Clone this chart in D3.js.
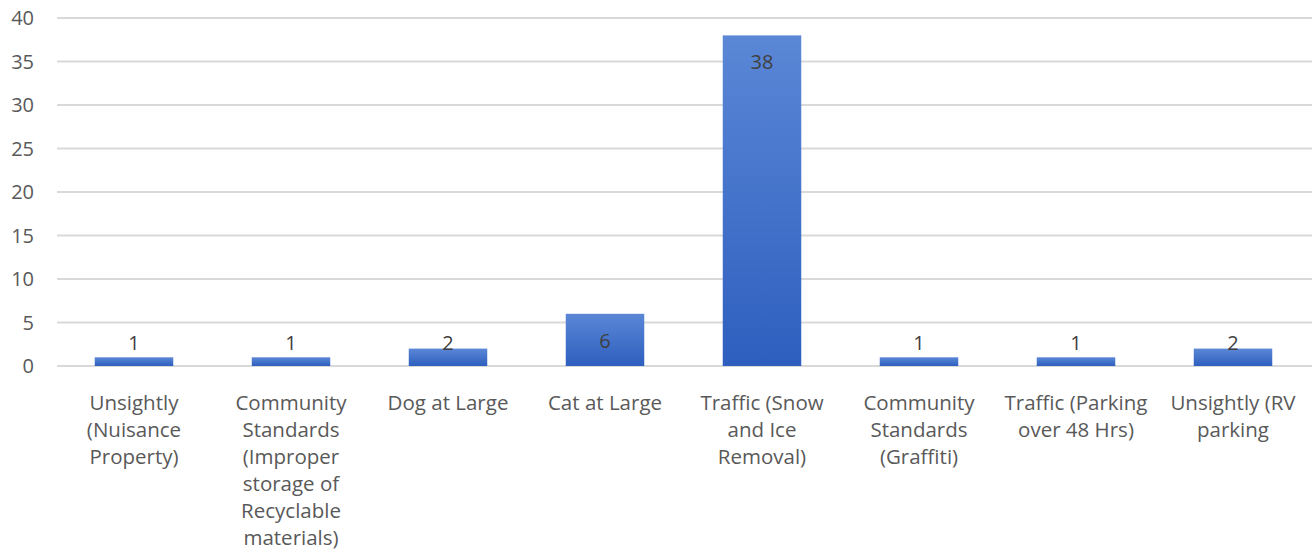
<!DOCTYPE html>
<html>
<head>
    <meta charset='utf-8'>
    <style>
        body { margin: 0; background: #fff; font-family: 'Open Sans', sans-serif; }
    </style>
    <script src='https://d3js.org/d3.v7.min.js'></script>
</head>
<body>
    <script>
        const WIDTH = 1312;
        const HEIGHT = 554;

        var categories = [
            ['Unsightly', '(Nuisance', 'Property)'],
            ['Community', 'Standards', '(Improper', 'storage of', 'Recyclable', 'materials)'],
            ['Dog at Large'],
            ['Cat at Large'],
            ['Traffic (Snow', 'and Ice', 'Removal)'],
            ['Community', 'Standards', '(Graffiti)'],
            ['Traffic (Parking', 'over 48 Hrs)'],
            ['Unsightly (RV', 'parking']
        ];
        var values = [1, 1, 2, 6, 38, 1, 1, 2];
        var yTicks = [0, 5, 10, 15, 20, 25, 30, 35, 40];

        var svg = d3.select('body').append('svg')
            .attr('width', WIDTH)
            .attr('height', HEIGHT);

        var grad = svg.append('defs').append('linearGradient')
            .attr('id', 'barGrad')
            .attr('x1', 0).attr('y1', 0).attr('x2', 0).attr('y2', 1);
        grad.append('stop').attr('offset', '0%').attr('stop-color', '#5b87d6');
        grad.append('stop').attr('offset', '100%').attr('stop-color', '#2e5fbf');

        var x = d3.scaleBand()
            .domain(d3.range(categories.length))
            .range([55.5, 1311.5])
            .paddingInner(0.5)
            .paddingOuter(0.25);

        var y = d3.scaleLinear()
            .domain([0, 40])
            .range([366, 18]);

        // gridlines
        svg.append('g')
            .selectAll('line')
            .data(yTicks)
            .enter()
            .append('line')
            .attr('x1', 57)
            .attr('x2', WIDTH)
            .attr('y1', function (d) { return y(d); })
            .attr('y2', function (d) { return y(d); })
            .attr('stroke', '#d9d9d9')
            .attr('stroke-width', 2);

        // y labels
        svg.append('g')
            .selectAll('text')
            .data(yTicks)
            .enter()
            .append('text')
            .text(function (d) { return d; })
            .attr('x', 34)
            .attr('y', function (d) { return y(d); })
            .attr('dy', '0.35em')
            .attr('text-anchor', 'end')
            .attr('font-size', '20px')
            .attr('fill', '#595959');

        // bars
        svg.append('g')
            .selectAll('rect')
            .data(values)
            .enter()
            .append('rect')
            .attr('x', function (d, i) { return x(i); })
            .attr('width', x.bandwidth())
            .attr('y', function (d) { return y(d); })
            .attr('height', function (d) { return y(0) - y(d); })
            .attr('fill', 'url(#barGrad)');

        // value labels
        svg.append('g')
            .selectAll('text')
            .data(values)
            .enter()
            .append('text')
            .text(function (d) { return d; })
            .attr('x', function (d, i) { return x(i) + x.bandwidth() / 2; })
            .attr('y', function (d) { return Math.min(y(d) + 27, y(0) - 23); })
            .attr('dy', '0.35em')
            .attr('text-anchor', 'middle')
            .attr('font-size', '20px')
            .attr('fill', '#404040');

        // category labels
        var cat = svg.append('g')
            .selectAll('text')
            .data(categories)
            .enter()
            .append('text')
            .attr('text-anchor', 'middle')
            .attr('font-size', '20.5px')
            .attr('fill', '#595959');

        cat.selectAll('tspan')
            .data(function (d, i) { return d.map(function (t) { return { t: t, i: i }; }); })
            .enter()
            .append('tspan')
            .text(function (d) { return d.t; })
            .attr('x', function (d) { return x(d.i) + x.bandwidth() / 2; })
            .attr('y', function (d, j) { return 410 + j * 27; });
    </script>
</body>
</html>
